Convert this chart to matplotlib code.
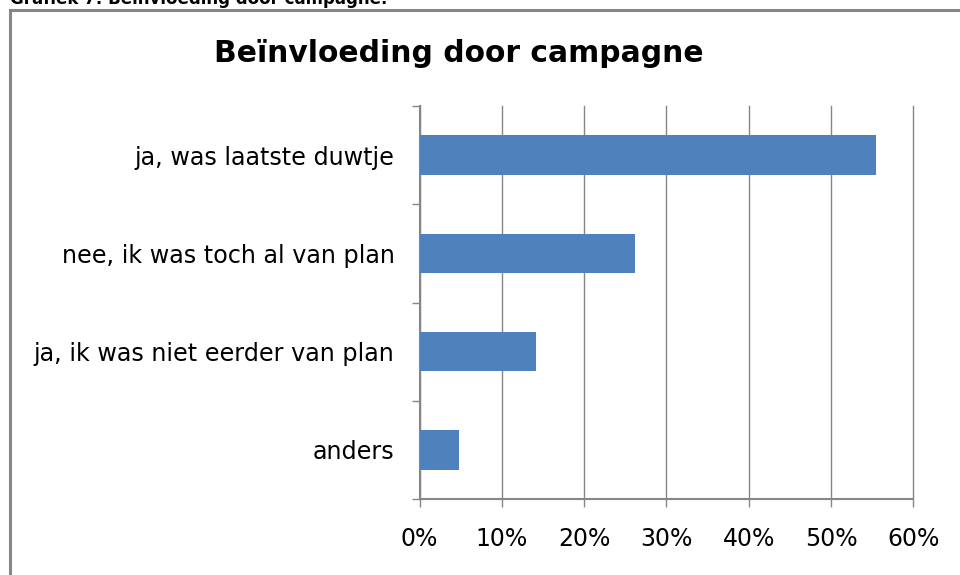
import matplotlib
matplotlib.use("Agg")
from matplotlib import pyplot as plt
from matplotlib.patches import Rectangle
from matplotlib.ticker import FuncFormatter

# data
categories = ['ja, was laatste duwtje', 'nee, ik was toch al van plan',
              'ja, ik was niet eerder van plan', 'anders']
values = [55.4, 26.2, 14.1, 4.8]
xticks = [0, 10, 20, 30, 40, 50, 60]

W, H = 960, 575
fig = plt.figure(figsize=(W / 100, H / 100), dpi=100)
fig.patch.set_facecolor('white')

# outer chart frame (right and bottom sides run off the picture)
fig.patches.append(Rectangle((9.5 / W, -0.1), 1.2, 1 - 9.5 / H + 0.1,
                             transform=fig.transFigure, fill=False,
                             edgecolor='#868686', linewidth=2.2))

# caption cut off at the top, as in the source page
fig.text(10 / W, 1 - 4.5 / H, 'Grafiek 7: Beïnvloeding door campagne.',
         fontsize=12, fontweight='bold', va='baseline', ha='left')

fig.text(459 / W, 1 - 62 / H, 'Beïnvloeding door campagne',
         fontsize=21.4, fontweight='bold', va='baseline', ha='center')

left, right, top, bottom = 419.5, 913.5, 106, 499
ax = fig.add_axes([left / W, 1 - bottom / H, (right - left) / W, (bottom - top) / H])

pos = list(range(len(categories)))
ax.barh(pos, values, height=0.4, color='#4F81BD', zorder=3)
ax.set_ylim(len(categories) - 0.5, -0.5)
ax.set_xlim(0, 60)

ax.set_yticks(pos)
ax.set_yticklabels(categories, fontsize=17.2)
ax.set_yticks([p - 0.5 for p in pos] + [len(categories) - 0.5], minor=True)
ax.tick_params(axis='y', which='major', length=0, pad=18)
ax.tick_params(axis='y', which='minor', length=6, width=1, color='#868686')

ax.set_xticks(xticks)
ax.xaxis.set_major_formatter(FuncFormatter(lambda v, p: '%d%%' % v))
ax.tick_params(axis='x', length=6, width=1, color='#868686', labelsize=17, pad=14)

ax.grid(axis='x', color='#868686', linewidth=1, zorder=0)
for gl in ax.get_xgridlines():
    gl.set_clip_on(False)
for s in ['top', 'right']:
    ax.spines[s].set_visible(False)
for s in ['left', 'bottom']:
    ax.spines[s].set_color('#868686')
    ax.spines[s].set_linewidth(1.5)

fig.savefig('out.png', dpi=100)
